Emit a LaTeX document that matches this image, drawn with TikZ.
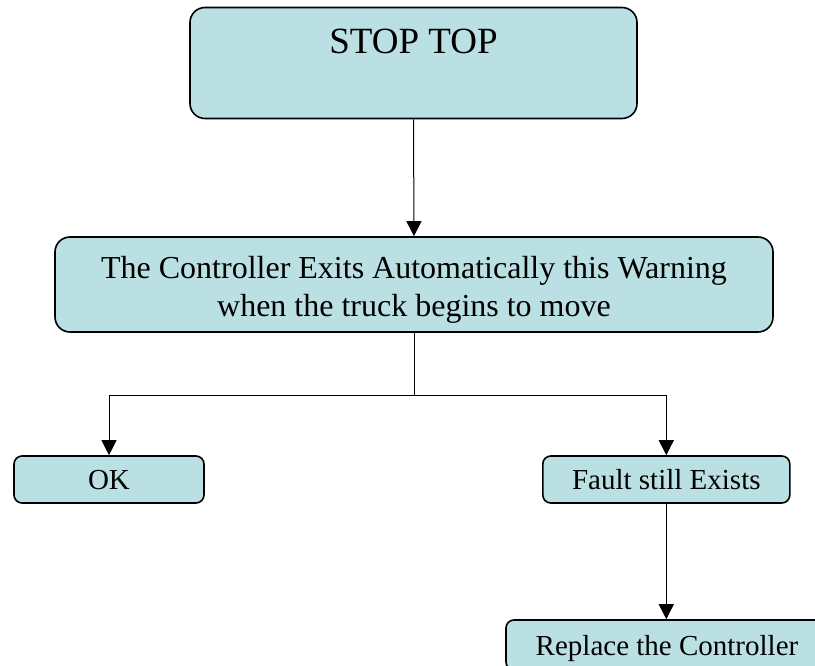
\documentclass[tikz,border=0pt]{standalone}
\usepackage{fontspec}
\setmainfont{Liberation Serif}
\usetikzlibrary{arrows.meta}
\definecolor{boxfill}{RGB}{186,224,227}
\begin{document}
\begin{tikzpicture}[x=1pt,y=-1pt,
  box/.style={draw=black, line width=1.6pt, fill=boxfill, inner sep=0pt, align=center},
  bigbox/.style={box, rounded corners=15pt},
  smallbox/.style={box, rounded corners=8pt, font=\fontsize{29}{34}\selectfont, text height=20pt, text depth=0pt},
  conn/.style={line width=1pt, draw=black},
  arr/.style={conn, -{Triangle[length=15pt,width=15pt]}}
]
\path[use as bounding box, clip] (0,0) rectangle (815,666);
\node[bigbox, minimum width=447pt, minimum height=111pt, font=\fontsize{37}{44}\selectfont, text height=26pt, text depth=44pt] (top) at (413.5,63) {STOP TOP};
\node[bigbox, minimum width=718pt, minimum height=95pt, font=\fontsize{32}{38}\selectfont] (mid) at (414,284.5) {\rule{0pt}{32pt}The Controller Exits Automatically this Warning\\when the truck begins to move};
\node[smallbox, minimum width=190pt, minimum height=47pt] (ok) at (109,479.5) {OK};
\node[smallbox, minimum width=247pt, minimum height=47pt] (fault) at (666.3,479.5) {Fault still Exists};
\node[smallbox, minimum width=322pt, minimum height=50pt] (repl) at (667,645) {Replace the Controller};
\coordinate (split) at (414,395);
\draw[arr] (top.south) -- (mid.north);
\draw[conn] (mid.south) -- (split);
\draw[arr] (split) -| (ok.north);
\draw[arr] (split) -| (fault.north);
\draw[arr] (fault.south) -- (fault.south |- repl.north);
\end{tikzpicture}
\end{document}
